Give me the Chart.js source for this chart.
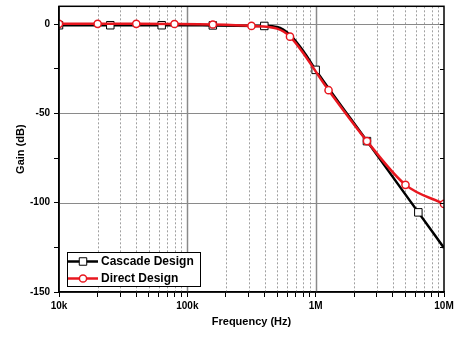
<!DOCTYPE html>
<html>
<head>
<meta charset="utf-8">
<script src="https://cdn.jsdelivr.net/npm/chart.js@4.4.0/dist/chart.umd.min.js"></script>
<style>
  html, body { margin: 0; padding: 0; background: #fff; }
</style>
</head>
<body>
<canvas id="gainChart" width="459" height="338"></canvas>
<script>
// values (frequency in Hz, gain in dB)
const cascadeFreq = [1e4, 2.51e4, 6.31e4, 1.58e5, 3.98e5, 5.0e5, 6.31e5, 8.0e5, 1e6, 2.51e6, 6.31e6, 1e7];
const cascadeGain = [-0.6, -0.6, -0.6, -0.7, -1.0, -1.6, -6.0, -15.0, -25.6, -65.5, -105.4, -125.3];
const cascadeMark = [1, 1, 1, 1, 1, 0, 0, 0, 1, 1, 1, 0];

const directFreq = [1e4, 2e4, 4e4, 7.94e4, 1.58e5, 3.16e5, 5.0e5, 6.31e5, 1.26e6, 2.51e6, 5.01e6, 1e7];
const directGain = [0.2, 0.2, 0.2, 0.1, -0.2, -1.0, -2.5, -7.0, -37.0, -65.5, -90.0, -100.7];
const directMark = [1, 1, 1, 1, 1, 1, 0, 1, 1, 1, 1, 1];

const xTicks = [1e4, 2e4, 3e4, 4e4, 5e4, 6e4, 7e4, 8e4, 9e4,
                1e5, 2e5, 3e5, 4e5, 5e5, 6e5, 7e5, 8e5, 9e5,
                1e6, 2e6, 3e6, 4e6, 5e6, 6e6, 7e6, 8e6, 9e6, 1e7];
const xMajor = [1e4, 1e5, 1e6, 1e7];
const xLabels = ["10k", "100k", "1M", "10M"];
const yTicks = [-150, -125, -100, -75, -50, -25, 0];
const yGrid = [-100, -50, 0];

const toPoints = (xs, ys) => xs.map((f, i) => ({ x: f, y: ys[i] }));

// grid lines under the curves
const gridPlugin = {
  id: "grid",
  beforeDatasetsDraw(chart) {
    const { ctx, chartArea: a, scales } = chart;
    ctx.save();
    xTicks.forEach((v) => {
      if (v === 1e4 || v === 1e7) return;
      const px = Math.round(scales.x.getPixelForValue(v)) + 0.5;
      const major = xMajor.includes(v);
      ctx.strokeStyle = major ? "#8a8a8a" : "#a0a0a0";
      ctx.lineWidth = major ? 1.5 : 1;
      ctx.setLineDash(major ? [] : [2, 2]);
      ctx.beginPath();
      ctx.moveTo(px, a.top);
      ctx.lineTo(px, a.bottom);
      ctx.stroke();
    });
    ctx.setLineDash([]);
    ctx.strokeStyle = "#8a8a8a";
    ctx.lineWidth = 1.2;
    yGrid.forEach((v) => {
      const py = Math.round(scales.y.getPixelForValue(v)) + 0.5;
      ctx.beginPath();
      ctx.moveTo(a.left, py);
      ctx.lineTo(a.right, py);
      ctx.stroke();
    });
    ctx.restore();
  },
  afterDatasetsDraw(chart) {
    const { ctx, chartArea: a, scales } = chart;
    ctx.save();
    ctx.strokeStyle = "#000";
    ctx.lineWidth = 1.5;
    ctx.strokeRect(a.left, a.top, a.right - a.left, a.bottom - a.top);
    // inward ticks on the right side
    ctx.lineWidth = 1;
    yTicks.forEach((v) => {
      const py = Math.round(scales.y.getPixelForValue(v)) + 0.5;
      ctx.beginPath();
      ctx.moveTo(a.right, py);
      ctx.lineTo(a.right - 4, py);
      ctx.stroke();
    });
    ctx.restore();
  },
};

// legend box inside the plot, bottom left
const legendPlugin = {
  id: "boxLegend",
  afterDraw(chart) {
    const { ctx, chartArea: a } = chart;
    const left = a.left + 8;
    const top = a.bottom - 40;
    ctx.save();
    ctx.fillStyle = "#fff";
    ctx.fillRect(left, top, 133, 34);
    ctx.strokeStyle = "#000";
    ctx.lineWidth = 1;
    ctx.strokeRect(left + 0.5, top + 0.5, 133, 34);
    const rows = [chart.data.datasets[0], chart.data.datasets[1]];
    rows.forEach((ds, i) => {
      const cy = top + 9.5 + i * 17;
      ctx.strokeStyle = ds.borderColor;
      ctx.lineWidth = 2.5;
      ctx.beginPath();
      ctx.moveTo(left + 1, cy);
      ctx.lineTo(left + 31, cy);
      ctx.stroke();
      ctx.fillStyle = "#fff";
      ctx.strokeStyle = ds.pointBorderColor;
      ctx.lineWidth = ds.pointBorderWidth;
      Chart.helpers.drawPoint(ctx, {
        pointStyle: ds.pointStyle,
        radius: ds.legendRadius,
        rotation: 0,
        borderWidth: ds.pointBorderWidth,
      }, left + 16, cy);
      ctx.fillStyle = "#000";
      ctx.font = "bold 12px 'Liberation Sans', Arial, sans-serif";
      ctx.textBaseline = "middle";
      ctx.textAlign = "left";
      ctx.fillText(ds.label, left + 34, cy + 0.5);
    });
    ctx.restore();
  },
};

const tickFont = { family: "'Liberation Sans', Arial, sans-serif", size: 10, weight: "bold" };
const titleFont = { family: "'Liberation Sans', Arial, sans-serif", size: 11, weight: "bold" };

new Chart(document.getElementById("gainChart").getContext("2d"), {
  type: "line",
  data: {
    datasets: [
      {
        label: "Cascade Design",
        data: toPoints(cascadeFreq, cascadeGain),
        borderColor: "#000",
        borderWidth: 2.5,
        pointStyle: "rect",
        pointRadius: cascadeMark.map((m) => (m ? 5.3 : 0)),
        legendRadius: 5.3,
        pointBackgroundColor: "#fff",
        pointBorderColor: "#000",
        pointBorderWidth: 1,
        cubicInterpolationMode: "monotone",
        order: 1,
      },
      {
        label: "Direct Design",
        data: toPoints(directFreq, directGain),
        borderColor: "#e8171f",
        borderWidth: 2.5,
        pointStyle: "circle",
        pointRadius: directMark.map((m) => (m ? 3.6 : 0)),
        legendRadius: 3.6,
        pointBackgroundColor: "#fff",
        pointBorderColor: "#e8171f",
        pointBorderWidth: 1.5,
        cubicInterpolationMode: "monotone",
        order: 0,
      },
    ],
  },
  options: {
    responsive: false,
    animation: false,
    devicePixelRatio: 1,
    layout: { padding: { top: 3, right: 15, left: 0, bottom: 0 } },
    plugins: { legend: { display: false }, tooltip: { enabled: false } },
    scales: {
      x: {
        type: "logarithmic",
        min: 1e4,
        max: 1e7,
        afterBuildTicks: (axis) => { axis.ticks = xTicks.map((v) => ({ value: v })); },
        afterFit: (axis) => { axis.height = 46; },
        ticks: {
          autoSkip: false,
          maxRotation: 0,
          padding: 3,
          color: "#000",
          font: tickFont,
          callback: (v) => {
            const i = xMajor.indexOf(v);
            return i >= 0 ? xLabels[i] : "";
          },
        },
        grid: { drawOnChartArea: false, tickLength: 5, tickColor: "#000", tickWidth: 1 },
        border: { color: "#000", width: 1.5 },
        title: { display: true, text: "Frequency (Hz)", color: "#000", font: titleFont, padding: { top: 0, bottom: 9 } },
      },
      y: {
        min: -150,
        max: 10,
        afterBuildTicks: (axis) => { axis.ticks = yTicks.map((v) => ({ value: v })); },
        afterFit: (axis) => {
          axis.width = 59;
          axis.paddingTop = 0;
          axis.paddingBottom = 0;
        },
        ticks: {
          padding: 4,
          color: "#000",
          font: tickFont,
          callback: (v) => (v % 50 === 0 ? String(v) : ""),
        },
        grid: { drawOnChartArea: false, tickLength: 5, tickColor: "#000", tickWidth: 1 },
        border: { color: "#000", width: 1.5 },
        title: { display: true, text: "Gain (dB)", color: "#000", font: titleFont, padding: { top: 14, bottom: 0 } },
      },
    },
  },
  plugins: [gridPlugin, legendPlugin],
});
</script>
</body>
</html>
